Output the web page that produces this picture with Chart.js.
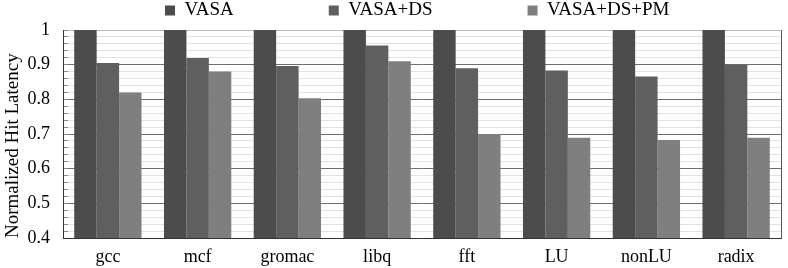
<!DOCTYPE html>
<html>
<head>
<meta charset="utf-8">
<script src="https://cdn.jsdelivr.net/npm/chart.js@4/dist/chart.umd.min.js"></script>
<style>
  html, body { margin: 0; padding: 0; background: #fff; }
  #wrap { width: 788px; height: 268px; }
</style>
</head>
<body>
<div id="wrap"><canvas id="latency"></canvas></div>
<script>
var benchmarks = ['gcc', 'mcf', 'gromac', 'libq', 'fft', 'LU', 'nonLU', 'radix'];
var seriesNames = ['VASA', 'VASA+DS', 'VASA+DS+PM'];
var vasa     = [1, 1, 1, 1, 1, 1, 1, 1];
var vasaDs   = [0.905, 0.919, 0.896, 0.955, 0.890, 0.883, 0.866, 0.900];
var vasaDsPm = [0.820, 0.880, 0.803, 0.910, 0.700, 0.689, 0.683, 0.689];
var yTicks   = [0.4, 0.5, 0.6, 0.7, 0.8, 0.9, 1];

var serif = "'Liberation Serif', 'DejaVu Serif', serif";
var colors = ['#4c4c4c', '#5f5f5f', '#7f7f7f'];

function isMajor(v) {
    return yTicks.some(function (t) { return Math.abs(t - v) < 1e-6; });
}

var ctx = document.getElementById('latency').getContext('2d');
var myChart = new Chart(ctx, {
    type: 'bar',
    data: {
        labels: benchmarks,
        datasets: [vasa, vasaDs, vasaDsPm].map(function (vals, i) {
            return {
                label: seriesNames[i],
                data: vals,
                backgroundColor: colors[i],
                borderWidth: 0,
                categoryPercentage: 0.75,
                barPercentage: 1
            };
        })
    },
    options: {
        responsive: true,
        maintainAspectRatio: false,
        animation: false,
        layout: { padding: { top: 1, right: 7, left: 0, bottom: 0 } },
        plugins: {
            tooltip: { enabled: false },
            legend: {
                position: 'top',
                fullSize: false,
                labels: {
                    font: { family: serif, size: 19 },
                    color: '#000',
                    boxWidth: 10,
                    boxHeight: 10,
                    padding: 0,
                    generateLabels: function (chart) {
                        var items = Chart.defaults.plugins.legend.labels.generateLabels(chart);
                        items.forEach(function (it, i) {
                            it.text = it.text + (i < items.length - 1 ? '                    ' : '  ');
                        });
                        return items;
                    }
                }
            }
        },
        scales: {
            x: {
                afterFit: function (s) { s.height = 30; },
                grid: {
                    drawTicks: false,
                    color: function (c) { return c.type === 'scale' ? '#555' : 'rgba(0,0,0,0)'; }
                },
                border: { color: '#333' },
                ticks: { font: { family: serif, size: 18 }, color: '#000', padding: 8 }
            },
            y: {
                min: 0.4,
                max: 1,
                weight: 1,
                afterFit: function (s) { s.width = 63; },
                ticks: {
                    stepSize: 0.02,
                    maxTicksLimit: 40,
                    autoSkip: false,
                    padding: 13,
                    font: { family: serif, size: 18 },
                    color: '#000',
                    callback: function (v) {
                        if (!isMajor(v)) return '';
                        return Math.abs(v - 1) < 1e-6 ? '1' : v.toFixed(1);
                    }
                },
                grid: {
                    drawTicks: false,
                    color: function (c) {
                        var v = c.tick ? c.tick.value : 0;
                        if (Math.abs(v - 1) < 1e-6) return '#bdbdbd';
                        return isMajor(v) ? '#6e6e6e' : '#e2e2e2';
                    }
                },
                border: { color: '#333' },
                title: {
                    display: true,
                    text: 'Normalized Hit Latency',
                    align: 'start',
                    font: { family: serif, size: 19 },
                    color: '#000',
                    padding: { top: 2, bottom: 3 }
                }
            },
            yMinor: {
                type: 'linear',
                position: 'left',
                weight: 0,
                min: 0.4,
                max: 1,
                afterFit: function (s) { s.width = 0; },
                ticks: { display: false, stepSize: 0.02, maxTicksLimit: 40, autoSkip: false },
                grid: { drawOnChartArea: false, drawTicks: true, tickLength: -5, color: '#8a8a8a' },
                border: { display: false }
            }
        }
    }
});
</script>
</body>
</html>
